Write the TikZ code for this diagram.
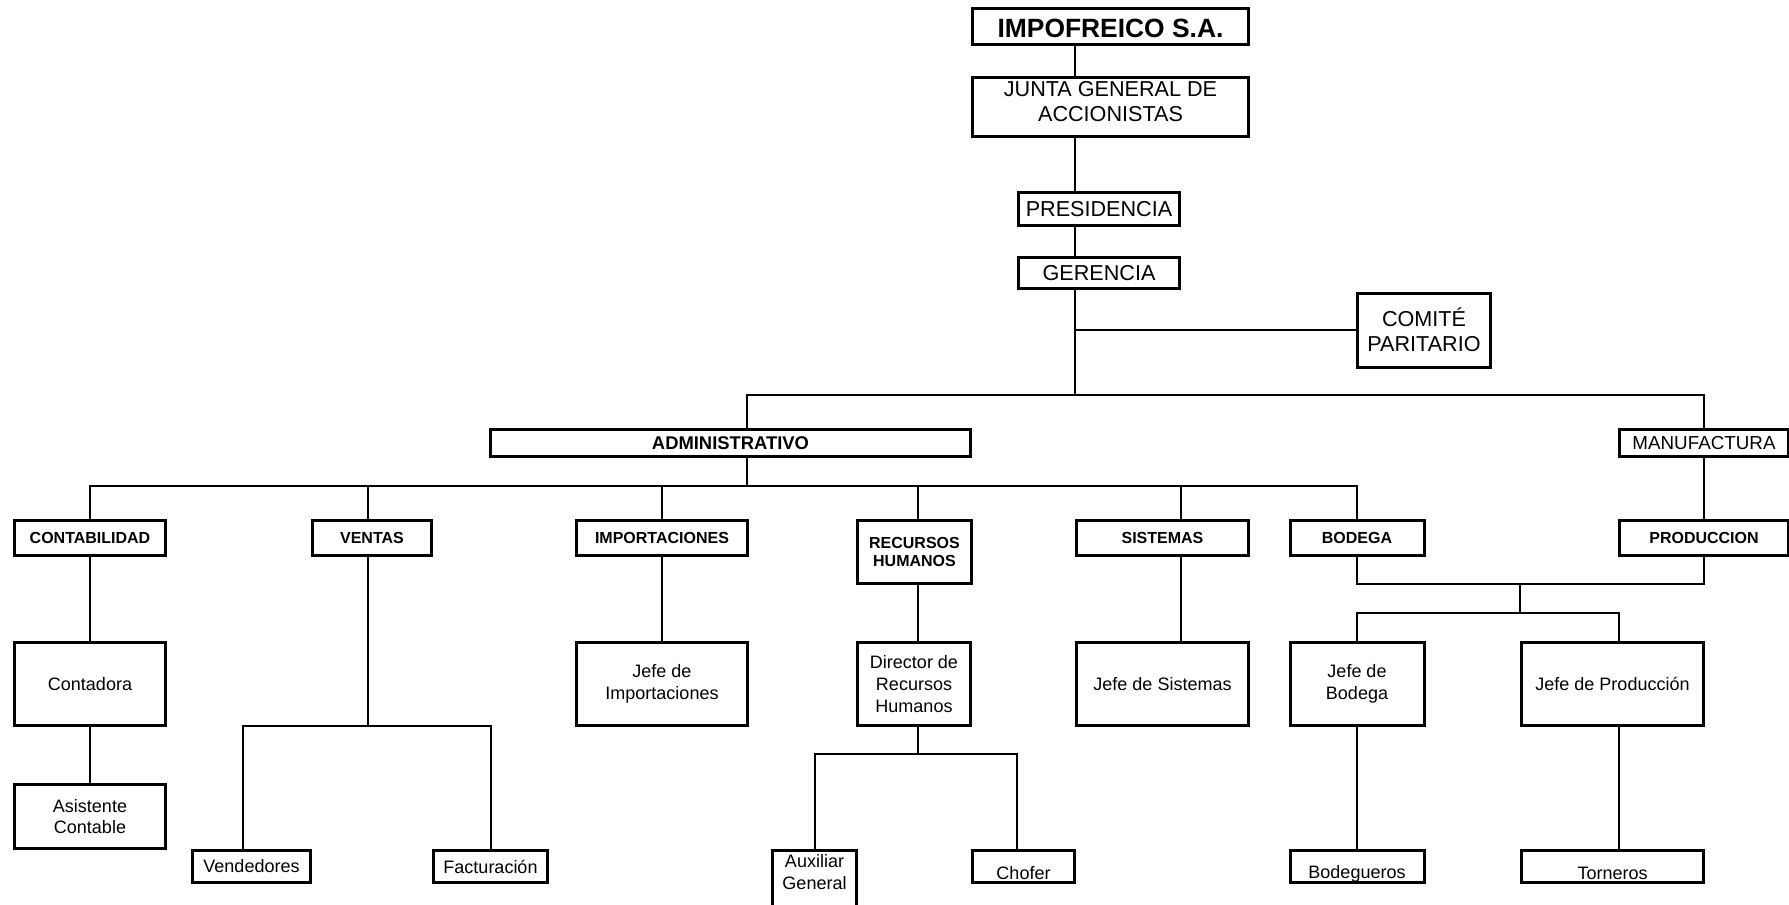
\documentclass[tikz,border=0pt]{standalone}
\usepackage{fontspec}
\setmainfont{Liberation Sans}

% move the text in a box without changing its size
\newcommand{\shifttext}[2]{\raisebox{#1}[\height][\depth]{#2}}

\tikzset{
  box/.style={draw, line width=1.5pt, align=center, inner sep=1pt, fill=white},
  titlebox/.style={box, font=\fontsize{13.2}{14}\selectfont\bfseries},
  head/.style={box, font=\fontsize{10.8}{12.5}\selectfont},
  dept/.style={box, font=\fontsize{8}{9}\selectfont\bfseries},
  small/.style={box, font=\fontsize{9}{10.8}\selectfont},
  link/.style={line width=1pt},
}

\begin{document}
\begin{tikzpicture}[x=0.5pt, y=-0.5pt]
  \useasboundingbox[fill=white] (0,0) rectangle (1789,905);

  % Direccion
  \node[titlebox, minimum width=138pt, minimum height=18pt] (imp) at (1110.5,26.5) {\shifttext{-1pt}{IMPOFREICO S.A.}};
  \node[head, minimum width=138pt, minimum height=29.5pt] (junta) at (1110.5,107)
    {\shifttext{1.7pt}{\begin{tabular}{@{}c@{}}JUNTA GENERAL DE\\ACCIONISTAS\end{tabular}}};
  \node[head, minimum width=80.5pt, minimum height=16.5pt] (pres) at (1099,209) {PRESIDENCIA};
  \node[head, minimum width=80.5pt, minimum height=15.5pt] (ger) at (1099,273) {GERENCIA};
  \node[head, minimum width=66.5pt, minimum height=37pt] (comite) at (1424,330) {COMITÉ\\PARITARIO};

  % Areas
  \node[dept, font=\fontsize{9.2}{10}\selectfont\bfseries, minimum width=240pt, minimum height=13.5pt] (admin) at (730.5,443) {ADMINISTRATIVO};
  \node[small, font=\fontsize{9.4}{10.8}\selectfont, minimum width=84.5pt, minimum height=13.5pt] (manuf) at (1704,443) {MANUFACTURA};

  % Departamentos
  \foreach \n/\x/\w/\t in {cont/90/75.5/CONTABILIDAD, ventas/372/59.5/VENTAS,
      impo/662/85.5/IMPORTACIONES, sist/1162.5/86/SISTEMAS, bod/1357/67/BODEGA,
      prod/1704/84.5/PRODUCCION}
    \node[dept, minimum width=\w pt, minimum height=17.5pt] (\n) at (\x,538) {\t};
  \node[dept, minimum width=57pt, minimum height=31.5pt] (rrhh) at (914.5,552) {RECURSOS\\HUMANOS};

  % Jefaturas
  \node[small, minimum width=75.5pt, minimum height=41.5pt] (contadora) at (90,684) {Contadora};
  \node[small, minimum width=85.5pt, minimum height=41.5pt] (jimp) at (662,684) {Jefe de\\Importaciones};
  \node[small, minimum width=56.5pt, minimum height=41.5pt] (dir) at (914,684) {Director de\\Recursos\\Humanos};
  \node[small, minimum width=86pt, minimum height=41.5pt] (jsis) at (1162.5,684) {Jefe de Sistemas};
  \node[small, minimum width=67pt, minimum height=41.5pt] (jbod) at (1357,684) {Jefe de\\Bodega};
  \node[small, minimum width=91pt, minimum height=41.5pt] (jprod) at (1612.5,684) {Jefe de Producción};
  \node[small, minimum width=75.5pt, minimum height=32pt] (asist) at (90,816.5) {Asistente\\Contable};

  % Personal
  \node[small, minimum width=59pt, minimum height=16pt] (vend) at (251.5,866.5) {Vendedores};
  \node[small, minimum width=57pt, minimum height=16pt] (fact) at (490.5,866.5) {Facturación};
  \node[small, minimum width=42pt, minimum height=28.5pt] (aux) at (814.5,879)
    {\shifttext{2.5pt}{\begin{tabular}{@{}c@{}}Auxiliar\\General\end{tabular}}};
  \node[small, minimum width=51pt, minimum height=16pt] (chofer) at (1023.5,866.5) {\shifttext{-3.5pt}{Chofer}};
  \node[small, minimum width=67pt, minimum height=16pt] (bodeg) at (1357,866.5) {\shifttext{-3.5pt}{Bodegueros}};
  \node[small, minimum width=91pt, minimum height=16pt] (torn) at (1612.5,866.5) {\shifttext{-3.5pt}{Torneros}};

  % Lineas de mando
  \coordinate (trunk) at (1075,395);
  \coordinate (abar) at (747,486);
  \draw[link] (imp.south -| trunk) -- (junta.north -| trunk)
    (junta.south -| trunk) -- (pres.north -| trunk)
    (pres.south -| trunk) -- (ger.north -| trunk)
    (ger.south -| trunk) -- (trunk);
  \draw[link] (trunk |- comite.west) -- (comite.west);
  \draw[link] (admin.north -| abar) |- (trunk) -| (manuf.north);
  \draw[link] (admin.south -| abar) -- (abar);
  \draw[link] (cont.north) |- (abar) -| (bod.north);
  \foreach \n/\sx in {ventas/368, impo/662, rrhh/918, sist/1180.6}
    \draw[link] (\n.north -| \sx,0) -- (abar -| \sx,0);

  \draw[link] (cont) -- (contadora) -- (asist);
  \draw[link] (impo) -- (jimp);
  \draw[link] (rrhh.south -| 918,0) -- (dir.north -| 918,0);
  \draw[link] (sist.south -| 1180.6,0) -- (jsis.north -| 1180.6,0);
  \draw[link] (jbod) -- (bodeg);
  \draw[link] (jprod.south -| 1619,0) -- (torn.north -| 1619,0);
  \draw[link] (manuf) -- (prod);

  % Ventas
  \coordinate (vsplit) at (368,726);
  \draw[link] (ventas.south -| vsplit) -- (vsplit);
  \draw[link] (vend.north -| 243,0) |- (vsplit) -| (fact.north);

  % Recursos humanos
  \coordinate (dsplit) at (918,754);
  \draw[link] (dir.south -| dsplit) -- (dsplit);
  \draw[link] (aux.north) |- (dsplit) -| (chofer.north -| 1016.5,0);

  % Bodega y produccion
  \coordinate (pbar) at (1520,584);
  \coordinate (jbar) at (1520,613);
  \draw[link] (bod.south) |- (pbar) -| (prod.south);
  \draw[link] (pbar) -- (jbar);
  \draw[link] (jbod.north) |- (jbar) -| (jprod.north -| 1619,0);
\end{tikzpicture}
\end{document}
